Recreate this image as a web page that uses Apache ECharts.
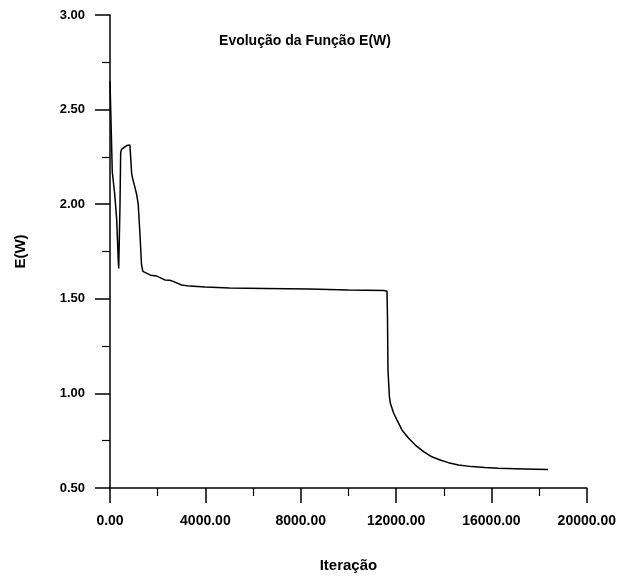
<!DOCTYPE html>
<html>
<head>
<meta charset="utf-8">
<script src="https://cdn.jsdelivr.net/npm/echarts@6/dist/echarts.min.js"></script>
<style>
  html, body { margin: 0; padding: 0; background: #ffffff; }
  #chart { width: 619px; height: 582px; }
</style>
</head>
<body>
<div id="chart"></div>
<script>
// Iteration counts at which E(W) was sampled
const iteracoes = [0, 40, 96, 200, 280, 347, 365, 420, 447, 480, 555, 700, 835, 890, 910, 960, 1044, 1120, 1183, 1253, 1322, 1380, 1461, 1700, 1962, 2300, 2505, 2650, 2714, 3000, 3340, 4000, 5010, 6500, 8351, 10000, 11500, 11620, 11640, 11660, 11720, 11762, 11900, 12040, 12246, 12526, 12806, 13152, 13499, 13850, 14196, 14614, 15169, 15728, 16284, 17398, 18372];
// Error function E(W) at each sampled iteration
const erro = [2.65, 2.45, 2.17, 2.05, 1.92, 1.70, 1.66, 2.00, 2.27, 2.29, 2.30, 2.31, 2.313, 2.315, 2.16, 2.13, 2.09, 2.05, 2.00, 1.85, 1.68, 1.645, 1.635, 1.625, 1.62, 1.60, 1.598, 1.592, 1.582, 1.573, 1.567, 1.562, 1.557, 1.555, 1.552, 1.547, 1.544, 1.540, 1.40, 1.124, 0.983, 0.946, 0.895, 0.859, 0.807, 0.763, 0.727, 0.692, 0.665, 0.648, 0.634, 0.622, 0.613, 0.608, 0.604, 0.601, 0.598];

const titulo = 'Evolução da Função E(W)';
const nomeX = 'Iteração';
const nomeY = 'E(W)';

const fonte = '"Liberation Sans", Arial, sans-serif';
const chart = echarts.init(document.getElementById('chart'), null, { renderer: 'canvas' });

chart.setOption({
  backgroundColor: '#ffffff',
  animation: false,
  title: {
    text: titulo,
    left: 300, top: 29,
    textAlign: 'center',
    textStyle: { fontFamily: fonte, fontWeight: 'bold', fontSize: 14, color: '#000' }
  },
  grid: { left: 110, right: 30, top: 15, bottom: 94, containLabel: false },
  xAxis: {
    type: 'value',
    min: 0, max: 20000, interval: 4000,
    name: nomeX,
    nameLocation: 'middle',
    nameGap: 70,
    nameTextStyle: { fontFamily: fonte, fontWeight: 'bold', fontSize: 15, color: '#000' },
    axisLine: { show: true, onZero: false, lineStyle: { color: '#000', width: 1.5 } },
    axisTick: { show: true, inside: false, length: 15, lineStyle: { color: '#000', width: 1.5 } },
    minorTick: { show: true, splitNumber: 2, length: 8, lineStyle: { color: '#000', width: 1.2 } },
    splitLine: { show: false },
    axisLabel: {
      margin: 26,
      formatter: v => v.toFixed(2),
      fontFamily: fonte, fontWeight: 'bold', fontSize: 14, color: '#000'
    }
  },
  yAxis: {
    type: 'value',
    min: 0.5, max: 3.0, interval: 0.5,
    name: nomeY,
    nameLocation: 'middle',
    nameGap: 82,
    nameRotate: 90,
    nameTextStyle: { fontFamily: fonte, fontWeight: 'bold', fontSize: 15, color: '#000' },
    axisLine: { show: true, onZero: false, lineStyle: { color: '#000', width: 1.5 } },
    axisTick: { show: true, inside: false, length: 15, lineStyle: { color: '#000', width: 1.5 } },
    minorTick: { show: true, splitNumber: 2, length: 8, lineStyle: { color: '#000', width: 1.2 } },
    splitLine: { show: false },
    axisLabel: {
      margin: 25,
      formatter: v => v.toFixed(2),
      fontFamily: fonte, fontWeight: 'bold', fontSize: 13, color: '#000'
    }
  },
  series: [{
    type: 'line',
    data: iteracoes.map((x, i) => [x, erro[i]]),
    showSymbol: false,
    smooth: false,
    lineStyle: { color: '#000', width: 1.5 }
  }]
});
</script>
</body>
</html>
